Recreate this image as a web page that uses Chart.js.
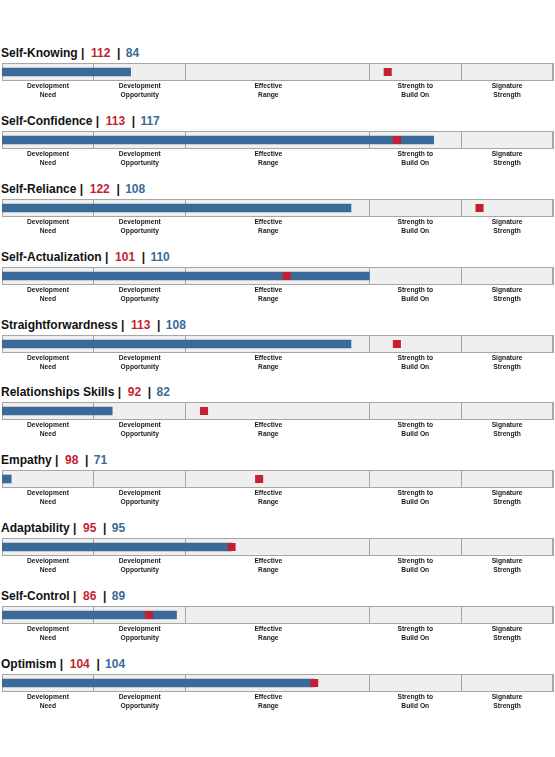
<!DOCTYPE html>
<html>
<head>
<meta charset="utf-8">
<script src="https://cdn.jsdelivr.net/npm/chart.js@4"></script>
<style>
  body { margin: 0; background: #fff; font-family: "Liberation Sans", Arial, sans-serif; }
  #wrap { position: relative; width: 555px; padding-top: 45px; }
  .row { height: 67.9px; }
  .ttl { height: 18px; line-height: 16px; font-size: 12px; font-weight: bold; color: #111; padding-left: 1px; white-space: pre; }
  .ttl .r { color: #c41f33; }
  .ttl .b { color: #3a6a97; margin-left: 2px; }
  .cv { position: relative; width: 555px; height: 37px; }
</style>
</head>
<body>
<div id="wrap"></div>
<script>
const names = ['Self-Knowing', 'Self-Confidence', 'Self-Reliance', 'Self-Actualization', 'Straightforwardness',
               'Relationships Skills', 'Empathy', 'Adaptability', 'Self-Control', 'Optimism']
const redScores = [112, 113, 122, 101, 113, 92, 98, 95, 86, 104]
const blueScores = [84, 117, 108, 110, 108, 82, 71, 95, 89, 104]

// zone edges and where each zone label sits
const zoneEdges = [70, 80, 90, 110, 120, 130]
const zoneMids = [75, 85, 99, 115, 125]
const zoneLabels = [['Development', 'Need'], ['Development', 'Opportunity'], ['Effective', 'Range'],
                    ['Strength to', 'Build On'], ['Signature', 'Strength']]

const RED = '#c41f33'
const BLUE = '#3a6a97'

// grey panel behind the bars + outline
const panelBg = {
    id: 'panelBg',
    beforeDraw(chart) {
        const a = chart.chartArea, c = chart.ctx
        c.save()
        c.fillStyle = '#efefef'
        c.fillRect(a.left, a.top, a.right - a.left, a.bottom - a.top)
        c.restore()
    },
    beforeDatasetsDraw(chart) {
        const a = chart.chartArea, c = chart.ctx
        c.save()
        c.strokeStyle = '#a6a6a6'
        c.lineWidth = 1
        c.strokeRect(a.left + 0.5, a.top + 0.5, a.right - a.left - 1, a.bottom - a.top - 1)
        c.restore()
    }
}

const wrap = document.getElementById('wrap')
const allTicks = [...zoneEdges, ...zoneMids].sort((a, b) => a - b)

names.forEach((name, i) => {
    const row = document.createElement('div')
    row.className = 'row'
    row.innerHTML = '<div class="ttl">' + name + ' |  <span class="r">' + redScores[i] + '</span>  | <span class="b">' +
        blueScores[i] + '</span></div><div class="cv"><canvas></canvas></div>'
    wrap.appendChild(row)
    const ctx = row.querySelector('canvas')

    new Chart(ctx, {
        type: 'bar',
        data: {
            labels: [name],
            datasets: [{
                type: 'line',
                data: [redScores[i]],
                showLine: false,
                pointStyle: 'rect',
                pointRadius: 5.7,
                pointBorderWidth: 0,
                pointBackgroundColor: RED,
                borderColor: RED,
                order: 0
            }, {
                data: [[70, blueScores[i]]],
                backgroundColor: BLUE,
                barThickness: 8,
                order: 1
            }]
        },
        options: {
            indexAxis: 'y',
            responsive: true,
            maintainAspectRatio: false,
            animation: false,
            layout: { autoPadding: false, padding: { left: 2, right: 2, top: 0, bottom: 1 } },
            plugins: { legend: { display: false }, tooltip: { enabled: false } },
            scales: {
                x: {
                    type: 'linear',
                    min: 70,
                    max: 130,
                    afterBuildTicks: axis => { axis.ticks = allTicks.map(v => ({ value: v })) },
                    grid: {
                        color: c => (c.tick && zoneEdges.includes(c.tick.value)) ? '#a6a6a6' : 'rgba(0,0,0,0)',
                        drawTicks: false
                    },
                    border: { display: false },
                    ticks: {
                        autoSkip: false,
                        maxRotation: 0,
                        minRotation: 0,
                        padding: 1,
                        color: '#1a1a1a',
                        font: { family: '"Liberation Sans", Arial, sans-serif', size: 6.7, weight: 'bold', lineHeight: 1.28 },
                        callback: v => {
                            const k = zoneMids.indexOf(v)
                            return k >= 0 ? zoneLabels[k] : ''
                        }
                    }
                },
                y: { display: false }
            }
        },
        plugins: [panelBg]
    })
})
</script>
</body>
</html>
